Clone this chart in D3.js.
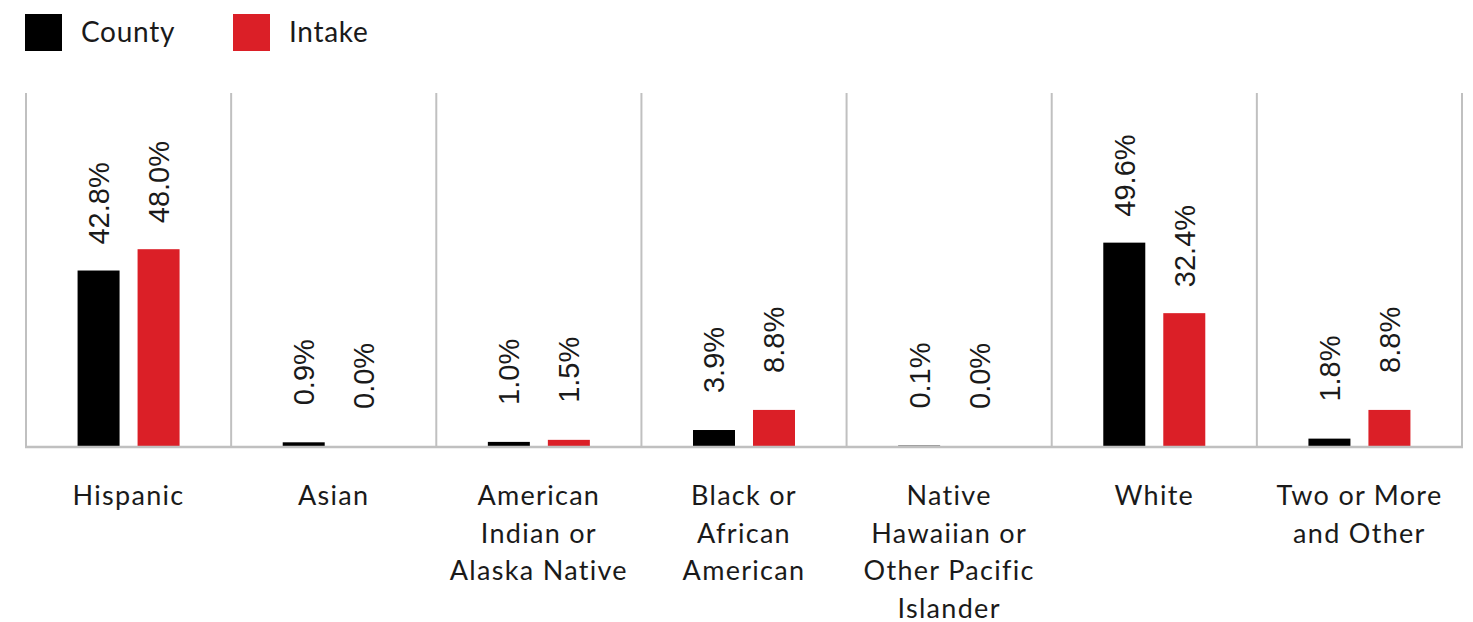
<!DOCTYPE html>
<html>
<head>
<meta charset="utf-8">
<script src="https://cdn.jsdelivr.net/npm/d3@7"></script>
<style>
  body { margin: 0; background: #fff; }
  svg { display: block; }
</style>
</head>
<body>
<div id="chart"></div>
<script>
const categories = [
  ['Hispanic'],
  ['Asian'],
  ['American', 'Indian or', 'Alaska Native'],
  ['Black or', 'African', 'American'],
  ['Native', 'Hawaiian or', 'Other Pacific', 'Islander'],
  ['White'],
  ['Two or More', 'and Other'],
];
const seriesNames = ['County', 'Intake'];
const county = [42.8, 0.9, 1.0, 3.9, 0.1, 49.6, 1.8];
const intake = [48.0, 0.0, 1.5, 8.8, 0.0, 32.4, 8.8];

const width = 1473;
const height = 622;
const colors = { County: '#000000', Intake: '#db1f27' };
const gridColor = '#c0c0c0';
const labelFont = "'Liberation Sans', Arial, sans-serif";
const catFont = "Lato, 'Open Sans', sans-serif";

const svg = d3.select('#chart').append('svg')
  .attr('width', width)
  .attr('height', height);

const keys = categories.map(c => c.join(' '));
const rows = keys.map((k, i) => ({ key: k, lines: categories[i], County: county[i], Intake: intake[i] }));

const x = d3.scaleBand()
  .domain(keys)
  .range([26, 1462])
  .paddingInner(0)
  .paddingOuter(0);

// two bars 42px wide with an 18px gap, centred in each band
const barW = 42;
const gap = 18;
const x1 = d3.scaleOrdinal()
  .domain(seriesNames)
  .range([-(gap / 2) - barW, gap / 2]);

const baseY = 446;
const y = d3.scaleLinear()
  .domain([0, 100])
  .range([baseY, baseY - 410]);

// vertical separators
svg.append('g')
  .selectAll('line')
  .data(keys.map(k => x(k)).concat([x.range()[1]]))
  .enter()
  .append('line')
  .attr('x1', d => d)
  .attr('x2', d => d)
  .attr('y1', 93)
  .attr('y2', baseY + 1)
  .attr('stroke', gridColor)
  .attr('stroke-width', 2);

// bars
const groups = svg.append('g')
  .selectAll('g')
  .data(rows)
  .enter()
  .append('g')
  .attr('transform', d => `translate(${x(d.key) + x.bandwidth() / 2},0)`);

groups.selectAll('rect')
  .data(d => seriesNames.map(s => ({ s, v: d[s] })))
  .enter()
  .append('rect')
  .attr('x', d => x1(d.s))
  .attr('width', barW)
  .attr('y', d => y(d.v))
  .attr('height', d => baseY - y(d.v))
  .attr('fill', d => colors[d.s]);

// value labels, rotated
groups.selectAll('text.val')
  .data(d => seriesNames.map(s => ({ s, v: d[s] })))
  .enter()
  .append('text')
  .attr('class', 'val')
  .attr('transform', (d) => {
    const cx = x1(d.s) + barW / 2;
    const off = d.v > 20 ? 26 : 37;
    return `translate(${cx},${y(d.v) - off}) rotate(-90)`;
  })
  .attr('dy', '0.36em')
  .attr('text-anchor', 'start')
  .attr('font-family', labelFont)
  .attr('font-size', 29)
  .attr('fill', '#1a1a1a')
  .text(d => `${d.v.toFixed(1)}%`);

// baseline
svg.append('line')
  .attr('x1', x.range()[0] - 1)
  .attr('x2', x.range()[1] + 1)
  .attr('y1', baseY + 1)
  .attr('y2', baseY + 1)
  .attr('stroke', gridColor)
  .attr('stroke-width', 2.5);

// category labels
const cat = svg.append('g')
  .selectAll('text')
  .data(rows)
  .enter()
  .append('text')
  .attr('x', d => x(d.key) + x.bandwidth() / 2)
  .attr('y', 505)
  .attr('text-anchor', 'middle')
  .attr('font-family', catFont)
  .attr('font-size', 27)
  .attr('letter-spacing', 1.3)
  .attr('fill', '#1a1a1a');

cat.selectAll('tspan')
  .data(d => d.lines.map((t, i) => ({ t, i, cx: x(d.key) + x.bandwidth() / 2 })))
  .enter()
  .append('tspan')
  .attr('x', d => d.cx)
  .attr('dy', d => (d.i === 0 ? 0 : 37.5))
  .text(d => d.t);

// legend
const legend = svg.append('g')
  .selectAll('g')
  .data(seriesNames)
  .enter()
  .append('g')
  .attr('transform', (d, i) => `translate(${25 + i * 208},14)`);

legend.append('rect')
  .attr('width', 37)
  .attr('height', 37)
  .attr('fill', d => colors[d]);

legend.append('text')
  .attr('x', 56)
  .attr('y', 28)
  .attr('font-family', catFont)
  .attr('font-size', 28)
  .attr('letter-spacing', 0.7)
  .attr('fill', '#1a1a1a')
  .text(d => d);
</script>
</body>
</html>
